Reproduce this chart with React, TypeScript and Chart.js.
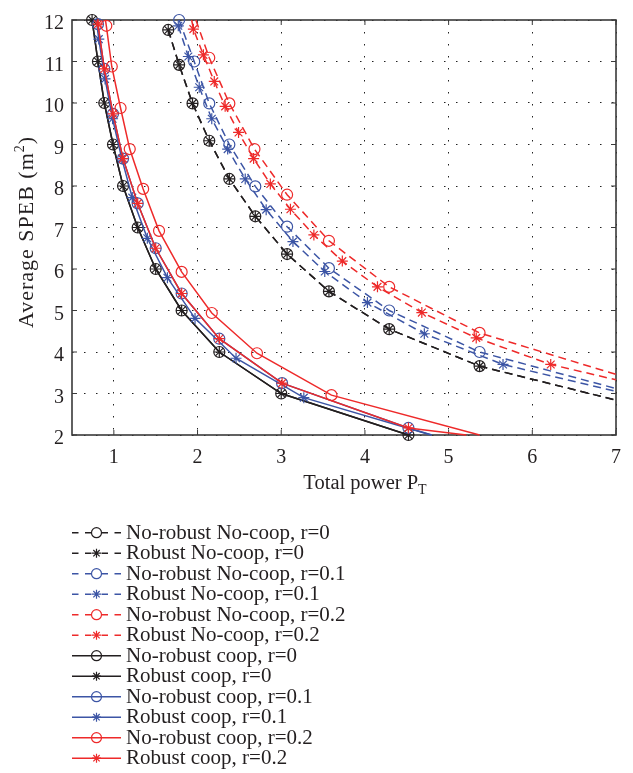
import React, { useEffect, useRef } from 'react';
import { Chart, registerables } from 'chart.js';

Chart.register(...registerables);

const BLACK = '#231f20';
const BLUE = '#3c55a5';
const RED = '#ee2a2a';
const FONT = "'Liberation Serif', 'Times New Roman', serif";

// Tick values
const xTickValues = [1, 2, 3, 4, 5, 6, 7];
const yTickValues = [2, 3, 4, 5, 6, 7, 8, 9, 10, 11, 12];

// No-coop, r = 0 (no-robust and robust coincide)
const ncR0X = [1.65, 1.78, 1.94, 2.14, 2.38, 2.69, 3.07, 3.57, 4.29, 5.37, 7.0];
const ncR0Y = [11.76, 10.92, 9.99, 9.09, 8.17, 7.27, 6.36, 5.46, 4.55, 3.66, 2.84];

// No-robust No-coop, r = 0.1
const nrNcR1X = [1.78, 1.96, 2.14, 2.38, 2.69, 3.07, 3.57, 4.29, 5.37, 7.0];
const nrNcR1Y = [12.0, 11.0, 9.99, 9.0, 7.99, 7.02, 6.02, 5.0, 4.0, 3.12];

// Robust No-coop, r = 0.1
const rNcR1X = [1.77, 1.89, 2.02, 2.17, 2.36, 2.57, 2.82, 3.14, 3.52, 4.03, 4.71, 5.65, 7.0];
const rNcR1Y = [11.86, 11.12, 10.38, 9.62, 8.89, 8.17, 7.43, 6.66, 5.94, 5.19, 4.44, 3.7, 3.05];

// No-robust No-coop, r = 0.2
const nrNcR2X = [1.98, 2.14, 2.38, 2.68, 3.07, 3.57, 4.29, 5.37, 7.0];
const nrNcR2Y = [12.0, 11.09, 9.99, 8.89, 7.79, 6.68, 5.57, 4.46, 3.46];

// Robust No-coop, r = 0.2
const rNcR2X = [1.93, 1.95, 2.07, 2.2, 2.33, 2.49, 2.67, 2.87, 3.11, 3.39, 3.73, 4.15, 4.68, 5.33, 6.22, 7.0];
const rNcR2Y = [12.0, 11.78, 11.16, 10.52, 9.92, 9.29, 8.66, 8.05, 7.44, 6.82, 6.19, 5.57, 4.95, 4.34, 3.7, 3.33];

// Coop, r = 0 (no-robust and robust coincide)
const cR0X = [0.74, 0.81, 0.886, 0.99, 1.11, 1.285, 1.5, 1.81, 2.26, 3.0, 4.52];
const cR0Y = [12, 11, 10, 9, 8, 7, 6, 5, 4, 3, 2];

// No-robust coop, r = 0.1
const nrCR1X = [0.8, 0.81, 0.886, 0.99, 1.11, 1.285, 1.5, 1.81, 2.26, 3.01, 4.52, 4.8];
const nrCR1Y = [12.0, 11.9, 10.82, 9.74, 8.66, 7.58, 6.5, 5.41, 4.32, 3.25, 2.17, 2.0];

// Robust coop, r = 0.1
const rCR1X = [0.79, 0.82, 0.895, 0.985, 1.095, 1.22, 1.4, 1.64, 1.97, 2.46, 3.27, 4.79];
const rCR1Y = [12.0, 11.54, 10.58, 9.62, 8.66, 7.72, 6.74, 5.79, 4.81, 3.85, 2.9, 2.0];

// No-robust coop, r = 0.2
const nrCR2X = [0.9, 0.91, 0.975, 1.08, 1.19, 1.35, 1.54, 1.81, 2.17, 2.71, 3.6, 5.37];
const nrCR2Y = [12.0, 11.86, 10.88, 9.88, 8.89, 7.93, 6.92, 5.93, 4.94, 3.97, 2.96, 2.0];

// Robust coop, r = 0.2
const rCR2X = [0.8, 0.81, 0.886, 0.99, 1.11, 1.285, 1.5, 1.81, 2.26, 3.01, 4.52, 5.21];
const rCR2Y = [12.0, 11.9, 10.82, 9.74, 8.66, 7.58, 6.5, 5.41, 4.32, 3.25, 2.17, 2.0];

type Series = {
  label: string;
  x: number[];
  y: number[];
  color: string;
  dashed: boolean;
  marker: 'circle' | 'star';
  lead: number;
  tail: number;
};

const SERIES: Series[] = [
  { label: 'No-robust No-coop, r=0', x: ncR0X, y: ncR0Y, color: BLACK, dashed: true, marker: 'circle', lead: 0, tail: 1 },
  { label: 'Robust No-coop, r=0', x: ncR0X, y: ncR0Y, color: BLACK, dashed: true, marker: 'star', lead: 0, tail: 1 },
  { label: 'No-robust No-coop, r=0.1', x: nrNcR1X, y: nrNcR1Y, color: BLUE, dashed: true, marker: 'circle', lead: 0, tail: 1 },
  { label: 'Robust No-coop, r=0.1', x: rNcR1X, y: rNcR1Y, color: BLUE, dashed: true, marker: 'star', lead: 0, tail: 1 },
  { label: 'No-robust No-coop, r=0.2', x: nrNcR2X, y: nrNcR2Y, color: RED, dashed: true, marker: 'circle', lead: 1, tail: 1 },
  { label: 'Robust No-coop, r=0.2', x: rNcR2X, y: rNcR2Y, color: RED, dashed: true, marker: 'star', lead: 1, tail: 1 },
  { label: 'No-robust coop, r=0', x: cR0X, y: cR0Y, color: BLACK, dashed: false, marker: 'circle', lead: 0, tail: 0 },
  { label: 'Robust coop, r=0', x: cR0X, y: cR0Y, color: BLACK, dashed: false, marker: 'star', lead: 0, tail: 0 },
  { label: 'No-robust coop, r=0.1', x: nrCR1X, y: nrCR1Y, color: BLUE, dashed: false, marker: 'circle', lead: 1, tail: 1 },
  { label: 'Robust coop, r=0.1', x: rCR1X, y: rCR1Y, color: BLUE, dashed: false, marker: 'star', lead: 1, tail: 1 },
  { label: 'No-robust coop, r=0.2', x: nrCR2X, y: nrCR2Y, color: RED, dashed: false, marker: 'circle', lead: 1, tail: 1 },
  { label: 'Robust coop, r=0.2', x: rCR2X, y: rCR2Y, color: RED, dashed: false, marker: 'star', lead: 1, tail: 1 },
];

function drawMarker(ctx: CanvasRenderingContext2D, kind: string, x: number, y: number, r: number) {
  ctx.beginPath();
  if (kind === 'circle') {
    ctx.arc(x, y, r, 0, Math.PI * 2);
  } else {
    for (let k = 0; k < 4; k++) {
      const a = (k * Math.PI) / 4;
      ctx.moveTo(x - Math.cos(a) * r, y - Math.sin(a) * r);
      ctx.lineTo(x + Math.cos(a) * r, y + Math.sin(a) * r);
    }
  }
  ctx.stroke();
}

type Part = { t: string; s: number; dy: number };

function drawRich(ctx: CanvasRenderingContext2D, parts: Part[], cx: number, baseY: number, spacing = 0) {
  let total = 0;
  (ctx as any).letterSpacing = `${spacing}px`;
  const widths = parts.map((p) => {
    ctx.font = `${p.s}px ${FONT}`;
    const w = ctx.measureText(p.t).width;
    total += w;
    return w;
  });
  let x = cx - total / 2;
  parts.forEach((p, i) => {
    ctx.font = `${p.s}px ${FONT}`;
    ctx.fillText(p.t, x, baseY + p.dy);
    x += widths[i];
  });
  (ctx as any).letterSpacing = '0px';
}

const framePlugin = {
  id: 'frame',
  beforeDatasetsDraw(chart: any) {
    const { ctx, chartArea: a, scales } = chart;
    ctx.save();
    ctx.strokeStyle = '#3a3a3a';
    ctx.lineWidth = 1;
    xTickValues.forEach((v) => {
      const px = scales.x.getPixelForValue(v);
      ctx.beginPath();
      ctx.moveTo(px, a.bottom);
      ctx.lineTo(px, a.bottom - 5);
      ctx.moveTo(px, a.top);
      ctx.lineTo(px, a.top + 5);
      ctx.stroke();
    });
    yTickValues.forEach((v) => {
      const py = scales.y.getPixelForValue(v);
      ctx.beginPath();
      ctx.moveTo(a.left, py);
      ctx.lineTo(a.left + 5, py);
      ctx.moveTo(a.right, py);
      ctx.lineTo(a.right - 5, py);
      ctx.stroke();
    });
    ctx.lineWidth = 1.6;
    ctx.strokeRect(a.left, a.top, a.right - a.left, a.bottom - a.top);
    ctx.restore();
  },
  afterDraw(chart: any) {
    const { ctx } = chart;
    ctx.save();
    ctx.fillStyle = BLACK;
    ctx.textAlign = 'left';
    ctx.textBaseline = 'alphabetic';
    // x axis title
    drawRich(ctx, [
      { t: 'Total power P', s: 20.5, dy: 0 },
      { t: 'T', s: 14, dy: 5 },
    ], 365, 489);
    // y axis title
    ctx.save();
    ctx.translate(33, 232);
    ctx.rotate(-Math.PI / 2);
    drawRich(ctx, [
      { t: 'Average SPEB (m', s: 22, dy: 0 },
      { t: '2', s: 14, dy: -9 },
      { t: ')', s: 22, dy: 0 },
    ], 0, 0, 1);
    ctx.restore();

    // legend
    SERIES.forEach((s, i) => {
      const y = 532.7 + i * 20.5;
      ctx.save();
      ctx.strokeStyle = s.color;
      ctx.lineWidth = 1.4;
      if (s.dashed) {
        ctx.setLineDash([6.5, 6.5]);
        ctx.beginPath();
        ctx.moveTo(72, y);
        ctx.lineTo(96.5, y);
        ctx.stroke();
        ctx.beginPath();
        ctx.moveTo(121, y);
        ctx.lineTo(96.5, y);
        ctx.stroke();
        ctx.setLineDash([]);
      } else {
        ctx.beginPath();
        ctx.moveTo(72, y);
        ctx.lineTo(121, y);
        ctx.stroke();
      }
      ctx.lineWidth = 1.2;
      drawMarker(ctx, s.marker, 96.5, y, s.marker === 'circle' ? 5 : 4.5);
      ctx.restore();
      ctx.fillStyle = BLACK;
      ctx.font = `21px ${FONT}`;
      ctx.fillText(s.label, 126, y + 5.8);
    });
    ctx.restore();
  },
};

export default function App() {
  const ref = useRef<HTMLCanvasElement | null>(null);

  useEffect(() => {
    document.body.style.margin = '0';
    if (!ref.current) return;
    Chart.defaults.font.family = FONT;
    const chart = new Chart(ref.current, {
      type: 'line',
      data: {
        datasets: SERIES.map((s, i) => ({
          label: s.label,
          data: s.x.map((x, j) => ({ x, y: s.y[j] })),
          borderColor: s.color,
          borderWidth: 1.5,
          borderDash: s.dashed ? [8, 5] : [],
          pointStyle: s.marker,
          pointRadius: s.x.map((_, j) => (j < s.lead || j >= s.x.length - s.tail ? 0 : 5.5)),
          pointHoverRadius: 0,
          pointBorderColor: s.color,
          pointBackgroundColor: 'rgba(0,0,0,0)',
          pointBorderWidth: 1.2,
          fill: false,
          tension: 0,
          clip: 8,
          order: SERIES.length - i,
        })),
      },
      options: {
        animation: false,
        responsive: false,
        devicePixelRatio: 1,
        events: [],
        layout: { padding: { top: 8, right: 17, left: 0, bottom: 0 } },
        plugins: { legend: { display: false }, tooltip: { enabled: false } },
        scales: {
          x: {
            type: 'linear',
            min: 0.5,
            max: 7,
            afterBuildTicks: (s: any) => {
              s.ticks = xTickValues.map((v) => ({ value: v }));
            },
            afterFit: (s: any) => {
              s.height = 338;
            },
            ticks: {
              padding: 11,
              color: BLACK,
              font: { size: 20, family: FONT },
              autoSkip: false,
              maxRotation: 0,
              callback: (v: any) => String(v),
            },
            grid: { color: '#222', lineWidth: 1, drawTicks: false },
            border: { display: false, dash: [1.5, 10.5] },
          },
          y: {
            type: 'linear',
            min: 2,
            max: 12,
            afterBuildTicks: (s: any) => {
              s.ticks = yTickValues.map((v) => ({ value: v }));
            },
            afterFit: (s: any) => {
              s.width = 72;
            },
            ticks: {
              padding: 8,
              labelOffset: 4,
              color: BLACK,
              font: { size: 20, family: FONT },
              autoSkip: false,
              callback: (v: any) => String(v),
            },
            grid: { color: '#222', lineWidth: 1, drawTicks: false },
            border: { display: false, dash: [1.5, 10.5] },
          },
        },
      },
      plugins: [framePlugin],
    });
    return () => chart.destroy();
  }, []);

  return <canvas ref={ref} width={633} height={773} style={{ display: 'block' }} />;
}
